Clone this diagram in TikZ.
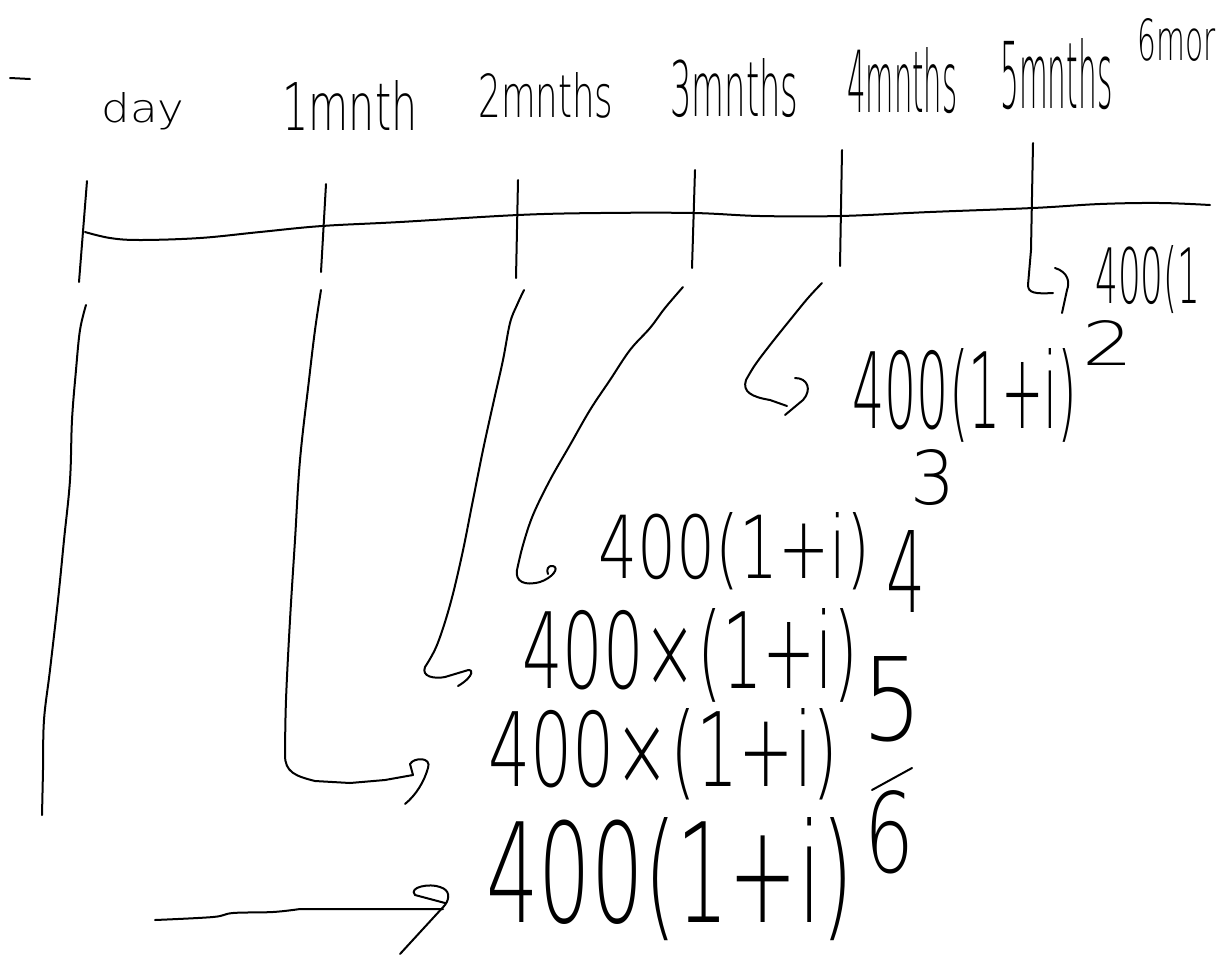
\documentclass[tikz,border=0pt]{standalone}
\usepackage{fontspec}
\setmainfont{DejaVu Sans ExtraLight}
\usepackage{graphicx}
% width and height (above baseline) in pixels of the reference
\newcommand{\hb}[3]{\resizebox{#1\dimexpr 0.5pt\relax}{#2\dimexpr 0.5pt\relax}{\fontsize{40}{40}\selectfont #3}}
\begin{document}
\begin{tikzpicture}[x=0.5pt,y=-0.5pt,
  hand/.style={line width=1pt, line cap=round, line join=round},
  lbl/.style={anchor=base west, inner sep=0pt}]
\useasboundingbox (0,0) rectangle (1221,954);
% top labels
\draw[hand] (10,78) -- (30,79);
\node[lbl] (day) at (101,122) {\hb{83}{30}{day}};
\node[lbl] (m1) at (282,130) {\hb{135}{50}{1mnth}};
\node[lbl] (m2) at (478,117) {\hb{135}{45}{2mnths}};
\node[lbl] (m3) at (670,116) {\hb{128}{58}{3mnths}};
\node[lbl] (m4) at (847,112) {\hb{110}{65}{4mnths}};
\node[lbl] (m5) at (1000,108) {\hb{112}{70}{5mnths}};
\node[lbl] (m6) at (1137,60) {\hb{78}{42}{6mor}};
% timeline
\draw[hand] plot[smooth,tension=0.6] coordinates {(85,232) (110,238) (140,240) (200,238) (260,232) (322,226) (400,222) (518,215) (600,213) (693,213) (760,216) (840,216) (930,212) (1033,208) (1100,204) (1160,203) (1210,205)};
% ticks
\coordinate (t0a) at (87,181); \coordinate (t0b) at (79,282);
\coordinate (t1a) at (326,184); \coordinate (t1b) at (321,272);
\coordinate (t2a) at (518,180); \coordinate (t2b) at (516,278);
\coordinate (t3a) at (695,170); \coordinate (t3b) at (692,268);
\coordinate (t4a) at (842,150); \coordinate (t4b) at (840,266);
\coordinate (t5a) at (1033,143); \coordinate (t5b) at (1031,250);
\draw[hand] (t0a) -- (t0b);
\draw[hand] (t1a) -- (t1b);
\draw[hand] (t2a) -- (t2b);
\draw[hand] (t3a) -- (t3b);
\draw[hand] (t4a) -- (t4b);
% formulas
\node[lbl] (f1) at (1095,303) {\hb{105}{58}{400(1}};
\node[lbl] (f2) at (852,428) {\hb{225}{80}{400(1+i)}};
\node[lbl] (e2) at (1082,365) {\hb{51}{45}{2}};
\node[lbl] (f3) at (598,578) {\hb{272}{66}{400(1+i)}};
\node[lbl] (e3) at (910,504) {\hb{45}{55}{3}};
\node[lbl] (f4) at (522,688) {\hb{336}{80}{400×(1+i)}};
\node[lbl] (e4) at (886,612) {\hb{39}{82}{4}};
\node[lbl] (f5) at (488,786) {\hb{350}{78}{400×(1+i)}};
\node[lbl] (e5) at (862,740) {\hb{60}{84}{5}};
\node[lbl] (f6) at (486,922) {\hb{367}{105}{400(1+i)}};
\node[lbl] (e6) at (864,872) {\hb{50}{82}{6}};
\draw[hand] (872,790) -- (912,768);
% connector from day (no arrow)
\coordinate (c0a) at (86,305);
\draw[hand] plot[smooth,tension=0.6] coordinates {(86,305) (80,330) (76,370) (72,420) (70,480) (64,540) (58,600) (50,670) (44,720) (43,770) (42,815)};
% connector from 1 month
\coordinate (c1a) at (321,290); \coordinate (c1e) at (413,775);
\draw[hand] plot[smooth,tension=0.6] coordinates {(321,290) (315,330) (309,380) (300,460) (295,540) (290,620) (286,700) (285,755)}
  .. controls (285,772) and (295,776) .. (315,781) -- (350,783) -- (385,780) -- (c1e);
\draw[hand] (c1e) -- (410,764) .. controls (414,757) and (432,757) .. (428,768) .. controls (424,782) and (416,795) .. (405,804);
% connector from 2 months
\coordinate (c2a) at (524,290); \coordinate (c2e) at (465,671);
\draw[hand] plot[smooth,tension=0.6] coordinates {(524,290) (517,305) (510,323) (503,360) (494,400) (483,450) (472,505) (462,555) (450,605) (437,645) (425,667)}
  .. controls (421,677) and (435,679) .. (445,677) -- (c2e);
\draw[hand] (c2e) .. controls (474,667) and (475,676) .. (458,686);
% connector from 3 months
\coordinate (c3a) at (683,287); \coordinate (c3e) at (540,582);
\draw[hand] plot[smooth,tension=0.6] coordinates {(683,287) (665,308) (650,328) (630,350) (610,380) (590,410) (570,445) (550,480) (533,515) (523,545) (517,570)}
  .. controls (515,582) and (525,586) .. (c3e);
\draw[hand] (c3e) .. controls (552,578) and (560,568) .. (553,566) .. controls (548,565) and (546,570) .. (548,574);
% connector from 4 months
\coordinate (c4a) at (822,283); \coordinate (c4e) at (787,406);
\draw[hand] plot[smooth,tension=0.6] coordinates {(822,283) (808,298) (790,320) (770,345) (755,365) (746,380)}
  .. controls (742,392) and (752,397) .. (770,400) -- (c4e);
\draw[hand] (795,378) .. controls (808,378) and (812,390) .. (803,400) -- (785,415);
% connector from 5 months
\coordinate (c5e) at (1053,293);
\draw[hand] (t5a) -- (t5b) -- (1028,285) .. controls (1028,293) and (1035,294) .. (c5e);
\draw[hand] (1055,268) .. controls (1068,272) and (1070,282) .. (1067,290) -- (1062,313);
% bottom arrow
\coordinate (c6a) at (155,920); \coordinate (c6e) at (443,909);
\draw[hand] plot[smooth,tension=0.6] coordinates {(155,920) (213,917) (233,913) (273,912) (300,909)} -- (c6e);
\draw[hand] (445,903) -- (415,895) .. controls (408,887) and (430,883) .. (440,887) .. controls (450,890) and (450,898) .. (445,905) -- (400,954);
\end{tikzpicture}
\end{document}
